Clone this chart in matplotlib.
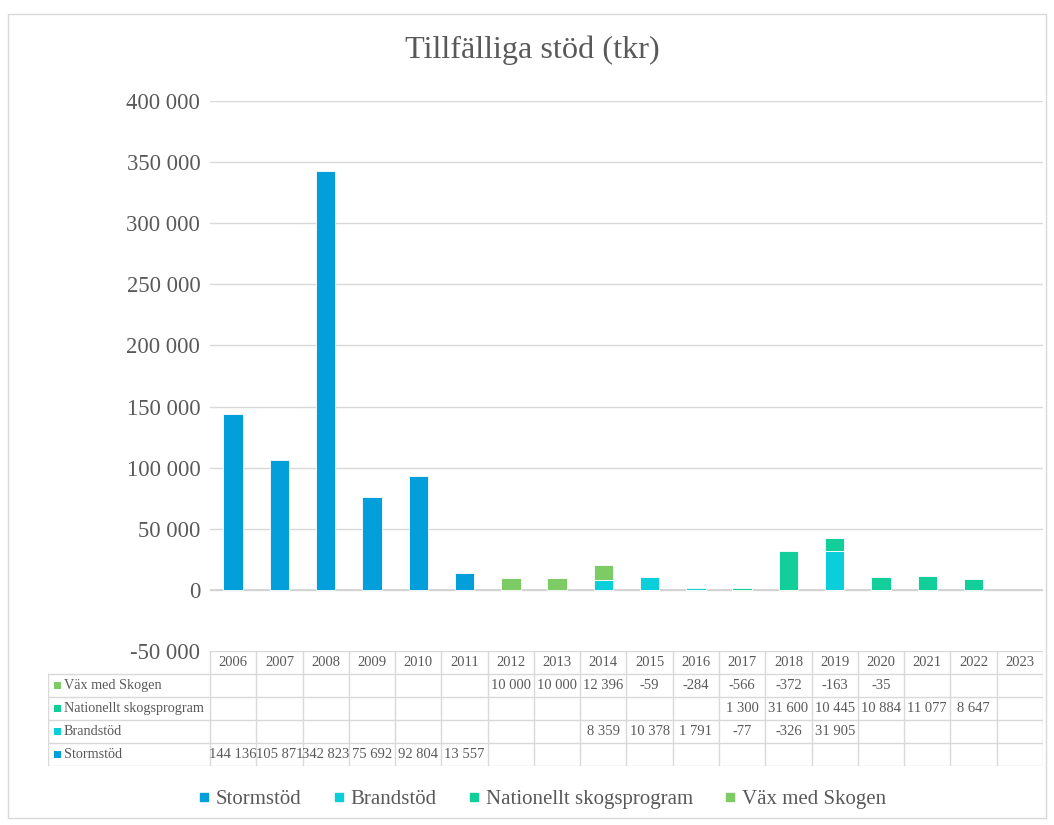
import matplotlib
matplotlib.use("Agg")
import matplotlib.pyplot as plt
from matplotlib.patches import Rectangle
from matplotlib.lines import Line2D
import numpy as np

years = [str(y) for y in range(2006, 2024)]
series_names = ["Stormstöd", "Brandstöd", "Nationellt skogsprogram", "Väx med Skogen"]
stormstod = [144136, 105871, 342823, 75692, 92804, 13557, None, None, None, None, None, None, None, None, None, None, None, None]
brandstod = [None, None, None, None, None, None, None, None, 8359, 10378, 1791, -77, -326, 31905, None, None, None, None]
nationellt = [None, None, None, None, None, None, None, None, None, None, None, 1300, 31600, 10445, 10884, 11077, 8647, None]
vax = [None, None, None, None, None, None, 10000, 10000, 12396, -59, -284, -566, -372, -163, -35, None, None, None]
colors = ["#039FDA", "#0ACFDA", "#12CF9A", "#7DCB64"]
yticks = [-50000, 0, 50000, 100000, 150000, 200000, 250000, 300000, 350000, 400000]

plt.rcParams['font.family'] = ['Liberation Serif', 'DejaVu Serif']
TXT = "#595959"
GRID = "#D9D9D9"

W, H = 1054, 825
fig = plt.figure(figsize=(W / 100, H / 100), dpi=100)

def fx(px):
    return px / W

def fy(py):
    return 1 - py / H

# outer chart border
fig.patches.append(Rectangle((fx(8), fy(818)), fx(1046) - fx(8), fy(14) - fy(818),
                             transform=fig.transFigure, fill=False, edgecolor=GRID, lw=1))

left_px, right_px, top_px, bot_px = 210, 1043, 101, 651
ax = fig.add_axes([fx(left_px), fy(bot_px), fx(right_px) - fx(left_px), fy(top_px) - fy(bot_px)])
x = np.arange(len(years))
data = [stormstod, brandstod, nationellt, vax]
pos_base = np.zeros(len(years))
neg_base = np.zeros(len(years))
for vals, c, name in zip(data, colors, series_names):
    v = np.array([0 if a is None else a for a in vals], dtype=float)
    for i in range(len(years)):
        if v[i] == 0:
            continue
        if v[i] > 0:
            ax.bar(x[i], v[i], 0.42, bottom=pos_base[i], color=c, edgecolor="white", linewidth=0.6, zorder=3)
            pos_base[i] += v[i]
        else:
            ax.bar(x[i], v[i], 0.42, bottom=neg_base[i], color=c, edgecolor="white", linewidth=0.6, zorder=3)
            neg_base[i] += v[i]

ax.set_xlim(-0.5, len(years) - 0.5)
ax.set_ylim(-50000, 400000)
ax.set_yticks(yticks)
ax.set_yticklabels([f"{t:,}".replace(",", " ") for t in yticks], fontsize=16.3, color=TXT)
ax.set_xticks([])
ax.tick_params(axis='y', length=0, pad=7)
for s in ax.spines.values():
    s.set_visible(False)
for t in yticks[1:]:
    ax.axhline(t, color=GRID, lw=1, zorder=1)
ax.axhline(0, color="#D0D0D0", lw=1.2, zorder=2)

fig.text(fx(532), fy(50), "Tillfälliga stöd (tkr)", ha="center", va="center", fontsize=23.2, color=TXT)

# data table
tab_left, tab_bot = 48, 766
tax = fig.add_axes([fx(tab_left), fy(tab_bot), fx(right_px) - fx(tab_left), fy(bot_px) - fy(tab_bot)])
tax.set_xlim(-4.0, len(years) - 0.5)
tax.set_ylim(5, 0)
tax.axis("off")
lc = GRID
tax.plot([-0.5, len(years) - 0.5], [0, 0], color=lc, lw=1)
for i in range(len(years) + 1):
    tax.plot([i - 0.5, i - 0.5], [0, 5], color=lc, lw=1)
tax.plot([-4.0, -4.0], [1, 5], color=lc, lw=1)
for r in range(1, 6):
    tax.plot([-4.0, len(years) - 0.5], [r, r], color=lc, lw=1)
for i, yv in enumerate(years):
    tax.text(i, 0.5, yv, ha="center", va="center", fontsize=10.5, color=TXT)

rows = [(series_names[3], vax, colors[3]), (series_names[2], nationellt, colors[2]),
        (series_names[1], brandstod, colors[1]), (series_names[0], stormstod, colors[0])]
for r, (name, vals, c) in enumerate(rows, start=1):
    tax.add_patch(Rectangle((-3.86, r + 0.36), 0.15, 0.3, color=c, lw=0))
    tax.text(-3.66, r + 0.5, name, ha="left", va="center", fontsize=10.2, color=TXT)
    for i, v in enumerate(vals):
        if v is None:
            continue
        s = f"{v:,}".replace(",", " ")
        tax.text(i, r + 0.5, s, ha="center", va="center", fontsize=10.5, color=TXT)

handles = [Line2D([], [], marker="s", linestyle="none", markersize=6, color=c) for c in colors]
fig.legend(handles, series_names, loc="center", bbox_to_anchor=(fx(543), fy(799)), ncol=4, frameon=False,
           fontsize=15, handlelength=0.4, handletextpad=0.35, columnspacing=1.6,
           labelcolor=TXT)

fig.savefig("out.png", dpi=100)
